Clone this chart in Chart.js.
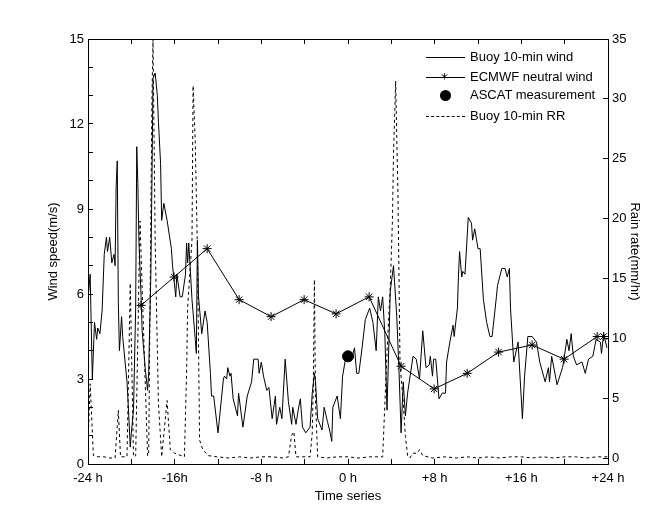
<!DOCTYPE html>
<html>
<head>
<meta charset="utf-8">
<script src="https://cdn.jsdelivr.net/npm/chart.js@4"></script>
<style>
  body { margin: 0; background: #fff; font-family: "Liberation Sans", Arial, sans-serif; }
  .wrap { position: relative; width: 672px; height: 521px; overflow: hidden; }
  .legend { position: absolute; left: 426px; top: 48px; font-size: 13px; color: #000; }
  .row { position: absolute; left: 0; height: 20px; width: 180px; white-space: nowrap; }
  .row span { position: absolute; left: 44px; top: 1px; }
  .row i { position: absolute; left: 0; top: 9px; width: 39px; border-top: 1px solid #000; }
  .row i.dash { border-top: 1px dashed #000; }
  .row b { position: absolute; left: 15px; top: 2px; font: 14px "DejaVu Sans"; font-weight: normal; }
  .row u { position: absolute; left: 14px; top: 4px; width: 11px; height: 11px; border-radius: 50%; background: #000; }
</style>
</head>
<body>
<div class="wrap">
  <canvas id="myChart" width="672" height="521"></canvas>
  <div class="legend"></div>
</div>
<script>
const LEGEND = ["Buoy 10-min wind", "ECMWF neutral wind", "ASCAT measurement", "Buoy 10-min RR"];
const X_LABELS = { "-24": "-24 h", "-16": "-16h", "-8": "-8 h", "0": "0 h", "8": "+8 h", "16": "+16 h", "24": "+24 h" };
const RAIN_TICKS = [0, 5, 10, 15, 20, 25, 30, 35];

const WIND_HOURS = [
  -24, -23.8, -23.6, -23.4, -23.2, -23.1, -22.9, -22.7, -22.5, -22.3, -22.2, -22, -21.8, -21.6, -21.5, -21.4, -21.3, -21.2, -21.1, -20.9,
  -20.8, -20.4, -20.3, -20.1, -20, -19.8, -19.6, -19.5, -19.4, -19.3, -19.1, -19, -18.7, -18.5, -18.4, -18.2, -18.1, -18, -17.8, -17.6,
  -17.5, -17.3, -17.2, -17, -16.7, -16.3, -16.2, -15.9, -15.8, -15.5, -15.3, -15, -14.9, -14.8, -14.7, -14.4, -14.1, -14, -13.9, -13.8,
  -13.5, -13.2, -13, -12.7, -12.6, -12.4, -12, -11.5, -11.4, -11.2, -11.1, -10.9, -10.8, -10.6, -10.2, -10.1, -9.7, -9.3, -8.9, -8.7,
  -8.3, -8.2, -8, -7.8, -7.5, -7.3, -7, -6.7, -6.6, -6.3, -6.1, -5.8, -5.5, -5.2, -5.1, -4.8, -4.6, -4.4, -4.2, -3.9,
  -3.5, -3.3, -3.1, -3, -2.8, -2.4, -2.2, -1.9, -1.7, -1.5, -1.4, -1, -0.7, -0.5, -0.1, 0.4, 0.6, 0.8, 1, 1.3,
  1.6, 2, 2.3, 2.6, 2.8, 3, 3.2, 3.4, 3.6, 3.8, 3.9, 4.2, 4.3, 4.5, 4.7, 4.9, 5.1, 5.3, 5.5, 6,
  6.3, 6.6, 6.9, 7.2, 7.5, 7.6, 7.8, 7.9, 8.1, 8.4, 8.7, 9, 9.1, 9.4, 9.7, 9.8, 10.1, 10.2, 10.3, 10.5,
  10.6, 10.8, 11.1, 11.4, 11.5, 11.7, 12, 12.2, 12.5, 12.8, 13.1, 13.3, 13.7, 13.8, 14.2, 14.5, 14.7, 14.9, 15, 15.3,
  15.7, 16.1, 16.3, 16.6, 17, 17.4, 17.7, 18.2, 18.5, 18.6, 18.8, 19.3, 19.8, 19.9, 20.2, 20.4, 20.6, 20.8, 21.1, 21.6,
  21.9, 22.2, 22.6, 22.9, 23.3, 23.4, 23.6, 23.9,
];
const WIND_SPEED = [
  5.8, 6.7, 3, 5, 4.4, 4.8, 4.6, 5.4, 7.4, 8, 7.5, 8, 7.1, 7.4, 7, 9.8, 10.7, 5.7, 4, 5.2,
  4.5, 2.9, 2.2, 0.6, 1.1, 1.9, 5.5, 11.2, 9.9, 7.9, 5.9, 4.7, 3.3, 2.6, 3.2, 6.7, 9.9, 13.6, 13.8, 13,
  12.1, 10.6, 8.6, 9.2, 8.6, 7.6, 7, 5.9, 6.7, 5.9, 5.9, 6.7, 7.8, 7.1, 7.8, 5.8, 4.4, 3.9, 7.9, 5.9,
  4.6, 5.4, 5, 3.2, 2.4, 2.4, 1.1, 3, 3.1, 3, 3.4, 3.1, 3.2, 2.3, 1.7, 2.5, 1.3, 2.4, 2.9, 3.7,
  3.7, 3.2, 3.6, 3.1, 2.6, 2.7, 1.6, 2.4, 1.4, 2, 1.6, 3.7, 2.2, 1.4, 2, 1.4, 1.9, 2.3, 1.3, 1.1,
  1.3, 2.5, 3.2, 2.9, 1.6, 1.2, 2, 1.5, 1.2, 0.8, 2, 2.4, 1.6, 3.1, 4, 3.8, 4.1, 3.2, 3.2, 4.1,
  5.1, 5.5, 5, 4, 5.9, 5.4, 5.9, 4.6, 1.9, 4.6, 6.1, 7, 6.4, 5.2, 3.4, 1.1, 2.9, 1.7, 2.5, 3.8,
  3.7, 3, 4.7, 3.4, 3.5, 3.8, 3.1, 3.7, 3.7, 2.3, 2.5, 2.5, 3.6, 4.3, 4.9, 4.5, 5.5, 6.7, 7.5, 6.6,
  6.8, 6.7, 8.7, 8.5, 7.9, 8.3, 7.6, 7.6, 5.8, 5, 4.5, 4.5, 5.9, 6.3, 6.9, 6.9, 6.6, 6.9, 5.5, 3.6,
  4.3, 1.6, 3.1, 4.5, 4.5, 4.3, 3.6, 2.9, 3.4, 2.9, 3.8, 2.8, 3.4, 3.6, 4.4, 4, 4.6, 3.8, 3.5, 3.6,
  3.2, 3.7, 3.8, 4.4, 4.3, 3.9, 4.6, 4.1,
];

const ECMWF_HOURS = [-19.1, -16.05, -13, -10.05, -7.1, -4.05, -1.1, 1.95, 4.9, 7.95, 11, 13.9, 17, 19.95, 23, 23.6];
const ECMWF_SPEED = [5.6, 6.6, 7.6, 5.8, 5.2, 5.8, 5.3, 5.9, 3.45, 2.65, 3.2, 3.95, 4.2, 3.7, 4.5, 4.5];

const ASCAT_HOURS = [0];
const ASCAT_SPEED = [3.8];

const RAIN_HOURS = [
  -24, -23.8, -23.5, -23, -22.5, -22, -21.5, -21.2, -21, -20.4, -20.1, -19.8, -19.6, -19.2, -18.5, -18.4, -18.1, -18, -17.8, -17.5,
  -17.2, -16.7, -16.4, -16, -15.1, -14.9, -14.8, -14.4, -14.3, -14.1, -13.9, -13.8, -13.7, -13.4, -12.9, -12.1, -11, -10, -9, -8,
  -7, -6, -5.5, -5.2, -5, -4.8, -3.5, -3.3, -3.2, -3.1, -3, -2.8, -2, -1, 0, 1, 2, 3.2, 3.6, 3.9,
  4.1, 4.2, 4.4, 4.5, 4.6, 4.7, 4.8, 5.1, 5.3, 5.5, 5.7, 6, 6.4, 6.6, 6.9, 7.8, 9, 10, 11, 12,
  13, 14, 15, 16, 17, 18, 19, 20, 21, 22, 23, 24,
];
const RAIN_RATE = [
  1, 6.2, 0.2, 0.1, 0.1, 0, 0, 4, 0.1, 0.1, 14.6, 0.1, 0.2, 19.8, 0.2, 0.2, 29.8, 35, 18.2, 4.6,
  0.1, 4.8, 0.7, 0.4, 0.1, 7.1, 12.6, 18.2, 31.1, 26.5, 17.3, 9.8, 1.5, 0.7, 0.2, 0.1, 0, 0.1, 0, 0.1,
  0.1, 0, 0.1, 1.9, 2.2, 0.1, 0.1, 2.1, 6.2, 14.9, 4.8, 0.1, 0, 0.1, 0.1, 0, 0.1, 0.1, 8.8, 14.3,
  19.8, 25.4, 31.5, 26.8, 22.6, 15.7, 7.9, 4.6, 1.8, 0.2, 0, 0.4, 0.4, 0.7, 0.2, 0, 0.1, 0, 0.1, 0,
  0.1, 0, 0.1, 0.1, 0, 0.1, 0, 0.1, 0.1, 0, 0.1, 0.1,
];

const toPoints = (xs, ys) => xs.map((x, i) => ({ x: x, y: ys[i] }));

const FONT = { family: "'Liberation Sans', Arial, sans-serif", size: 13 };
const BLACK = "#000";

// 안쪽으로 들어가는 눈금 공통
const inwardGrid = { drawOnChartArea: false, drawTicks: true, tickLength: -5, color: BLACK, tickColor: BLACK };
const borderLine = { display: true, color: BLACK, width: 1 };

const ctx = document.getElementById("myChart").getContext("2d");

new Chart(ctx, {
  type: "scatter",
  data: {
    datasets: [
      {
        label: LEGEND[0],
        data: toPoints(WIND_HOURS, WIND_SPEED),
        showLine: true,
        borderColor: BLACK,
        borderWidth: 1,
        pointRadius: 0,
        tension: 0,
        yAxisID: "y",
      },
      {
        label: LEGEND[1],
        data: toPoints(ECMWF_HOURS, ECMWF_SPEED),
        showLine: true,
        borderColor: BLACK,
        backgroundColor: BLACK,
        borderWidth: 1,
        pointStyle: "star",
        pointRadius: 4.5,
        pointBorderWidth: 1,
        tension: 0,
        yAxisID: "y",
      },
      {
        label: LEGEND[2],
        data: toPoints(ASCAT_HOURS, ASCAT_SPEED),
        showLine: false,
        backgroundColor: BLACK,
        borderColor: BLACK,
        pointRadius: 5.5,
        yAxisID: "y",
      },
      {
        label: LEGEND[3],
        data: toPoints(RAIN_HOURS, RAIN_RATE),
        showLine: true,
        borderColor: BLACK,
        borderWidth: 1,
        borderDash: [3, 3],
        pointRadius: 0,
        tension: 0,
        yAxisID: "y2",
      },
    ],
  },
  options: {
    responsive: false,
    animation: false,
    layout: { padding: { top: 39, left: 0, right: 0, bottom: 0 } },
    plugins: { legend: { display: false }, tooltip: { enabled: false } },
    scales: {
      x: {
        type: "linear",
        position: "bottom",
        min: -24,
        max: 24,
        grid: inwardGrid,
        border: borderLine,
        ticks: {
          stepSize: 4,
          autoSkip: false,
          maxRotation: 0,
          padding: 12,
          color: BLACK,
          font: FONT,
          callback: (v) => X_LABELS[v] || "",
        },
        title: { display: true, text: "Time series", color: BLACK, font: FONT, padding: { top: 0, bottom: 17 } },
        afterFit: (scale) => { scale.height = 57; },
      },
      xTop: {
        type: "linear",
        position: "top",
        min: -24,
        max: 24,
        grid: inwardGrid,
        border: borderLine,
        ticks: { stepSize: 4, autoSkip: false, callback: () => "" },
        afterFit: (scale) => { scale.height = 0; },
      },
      y: {
        type: "linear",
        position: "left",
        min: 0,
        max: 15,
        grid: inwardGrid,
        border: borderLine,
        ticks: {
          stepSize: 1,
          autoSkip: false,
          padding: 9,
          color: BLACK,
          font: FONT,
          callback: (v) => (v % 3 === 0 ? v : ""),
        },
        title: { display: true, text: "Wind speed(m/s)", color: BLACK, font: FONT, padding: { top: 46, bottom: 0 } },
        afterFit: (scale) => { scale.width = 88; },
      },
      y2: {
        type: "linear",
        position: "right",
        min: -0.5,
        max: 35,
        grid: inwardGrid,
        border: borderLine,
        afterBuildTicks: (scale) => { scale.ticks = RAIN_TICKS.map((v) => ({ value: v })); },
        ticks: { padding: 9, color: BLACK, font: FONT },
        title: { display: true, text: "Rain rate(mm/hr)", color: BLACK, font: FONT, padding: { top: 30, bottom: 0 } },
        afterFit: (scale) => { scale.width = 64; },
      },
    },
  },
});

// 범례
const SAMPLE = [
  "<i></i>",
  "<i></i><b>*</b>",
  "<u></u>",
  '<i class="dash"></i>',
];
const ROW_TOP = [0, 20, 38, 59];
document.querySelector(".legend").innerHTML = LEGEND.map((text, idx) => {
  return `<div class="row" style="top:${ROW_TOP[idx]}px">${SAMPLE[idx]}<span>${text}</span></div>`;
}).join("");
</script>
</body>
</html>
